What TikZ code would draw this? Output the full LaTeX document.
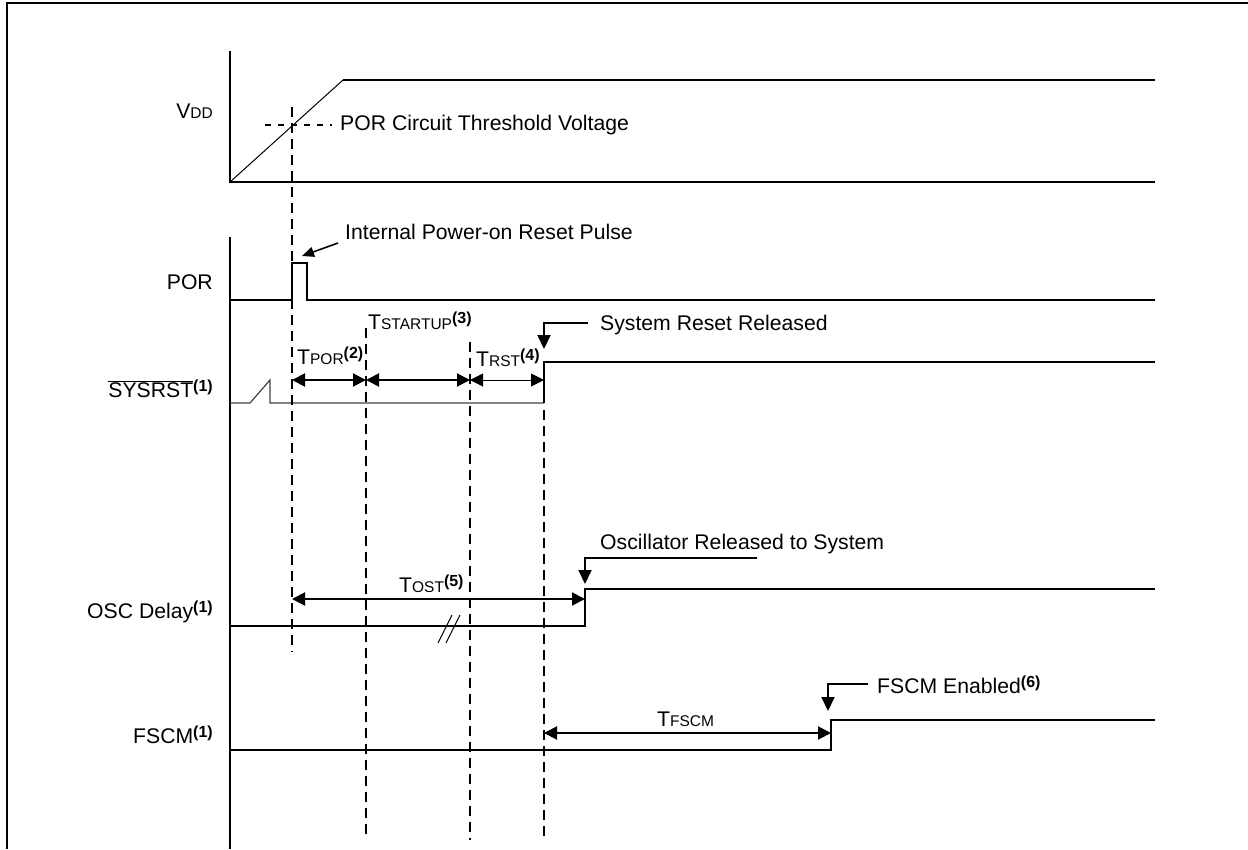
\documentclass[tikz,border=0pt]{standalone}
\usepackage{fontspec}
\setmainfont{Liberation Sans}
\usetikzlibrary{arrows.meta}
\newcommand{\sm}[1]{{\fontsize{15.5}{17}\selectfont #1}}
\newcommand{\nt}[1]{\raisebox{6pt}{\fontsize{16}{17}\selectfont\bfseries(#1)}}
\begin{document}
\begin{tikzpicture}[x=1pt,y=-1pt,
  sig/.style={line width=2pt, line join=miter},
  lowsig/.style={line width=1.2pt, black!75},
  frame/.style={line width=2.4pt},
  tmark/.style={line width=2pt, dash pattern=on 10pt off 6pt},
  thres/.style={line width=1.6pt, dash pattern=on 6pt off 7pt},
  dim/.style={line width=2pt, {Triangle[length=13pt,width=13pt]}-{Triangle[length=13pt,width=13pt]}},
  thindim/.style={line width=1pt, {Triangle[length=13pt,width=13pt]}-{Triangle[length=13pt,width=13pt]}},
  call/.style={line width=2pt, -{Triangle[length=14pt,width=13pt]}},
  lbl/.style={font=\fontsize{21.2}{25}\selectfont, inner sep=0pt}
]
\useasboundingbox (0,0) rectangle (1248,849);
% frame
\draw[frame] (7,849) -- (7,3) -- (1248,3);

% axes
\draw[sig] (230,51) -- (230,182) -- (1155,182);
\draw[sig] (230,237) -- (230,849);

% VDD
\draw[line width=1pt] (230,182) -- (343,80);
\draw[sig] (343,80) -- (1155,80);
\draw[thres] (265,125) -- (332,125);
\node[lbl, anchor=base east] (vdd) at (213,118) {V\sm{DD}};
\node[lbl, anchor=base west] (thr) at (340,130) {POR Circuit Threshold Voltage};

% POR
\draw[sig] (230,300) -- (292,300) -- (292,263) -- (307,263) -- (307,300) -- (1155,300);
\node[lbl, anchor=base east] (por) at (213,289) {POR};
\node[lbl, anchor=base west] (ipr) at (345,239) {Internal Power-on Reset Pulse};
\coordinate (iprs) at (338,243);
\coordinate (iprt) at (302,256);
\draw[line width=1.6pt, -{Triangle[length=12pt,width=10pt]}] (iprs) -- (iprt);

% SYSRST
\draw[lowsig] (230,403) -- (250,403) -- (270,380) -- (270,403) -- (544,403);
\draw[sig] (544,403) -- (544,362) -- (1155,362);
\node[lbl, anchor=base east] (sys) at (213,397) {$\overline{\mbox{SYSRST}}$\nt{1}};

% dashed marks
\draw[tmark] (292,107) -- (292,652);
\draw[tmark] (366,328) -- (366,840);
\draw[tmark] (470,342) -- (470,840);
\draw[tmark] (544,410) -- (544,840);

% SYSRST dimensions
\coordinate (a0) at (292,380);
\coordinate (a1) at (366,380);
\coordinate (a2) at (470,380);
\coordinate (a3) at (544,380);
\draw[dim] (a0) -- (a1);
\draw[dim] (a1) -- (a2);
\draw[thindim] (a2) -- (a3);
\node[lbl, anchor=base west] (tpor) at (297,364) {T\sm{POR}\nt{2}};
\node[lbl, anchor=base west] (tst) at (368,329) {T\sm{STARTUP}\nt{3}};
\node[lbl, anchor=base west] (trst) at (476,366) {T\sm{RST}\nt{4}};

% System Reset Released
\node[lbl, anchor=base west] (srr) at (600,330) {System Reset Released};
\coordinate (srs) at (588,323);
\coordinate (srk) at (544,323);
\coordinate (srt) at (544,349);
\draw[call] (srs) -- (srk) -- (srt);

% OSC Delay
\draw[sig] (230,626) -- (585,626) -- (585,589) -- (1155,589);
\draw[line width=1pt] (438,643) -- (452,615);
\draw[line width=1pt] (446,643) -- (460,615);
\node[lbl, anchor=base east] (osc) at (213,618) {OSC Delay\nt{1}};
\coordinate (o0) at (292,599);
\coordinate (o1) at (585,599);
\draw[dim] (o0) -- (o1);
\node[lbl, anchor=base west] (tost) at (399,592) {T\sm{OST}\nt{5}};
\node[lbl, anchor=base west] (orl) at (600,549) {Oscillator Released to System};
\coordinate (ors) at (757,558);
\coordinate (ork) at (585,558);
\coordinate (ort) at (585,584);
\draw[call] (ors) -- (ork) -- (ort);

% FSCM
\draw[sig] (230,750) -- (831,750) -- (831,720) -- (1155,720);
\node[lbl, anchor=base east] (fscm) at (213,743) {FSCM\nt{1}};
\coordinate (f0) at (544,733);
\coordinate (f1) at (831,733);
\draw[dim] (f0) -- (f1);
\node[lbl, anchor=base west] (tfscm) at (657,726) {T\sm{FSCM}};
\node[lbl, anchor=base west] (fen) at (877,693) {FSCM Enabled\nt{6}};
\coordinate (fes) at (868,684);
\coordinate (fek) at (828,684);
\coordinate (fet) at (828,711);
\draw[call] (fes) -- (fek) -- (fet);
\end{tikzpicture}
\end{document}
